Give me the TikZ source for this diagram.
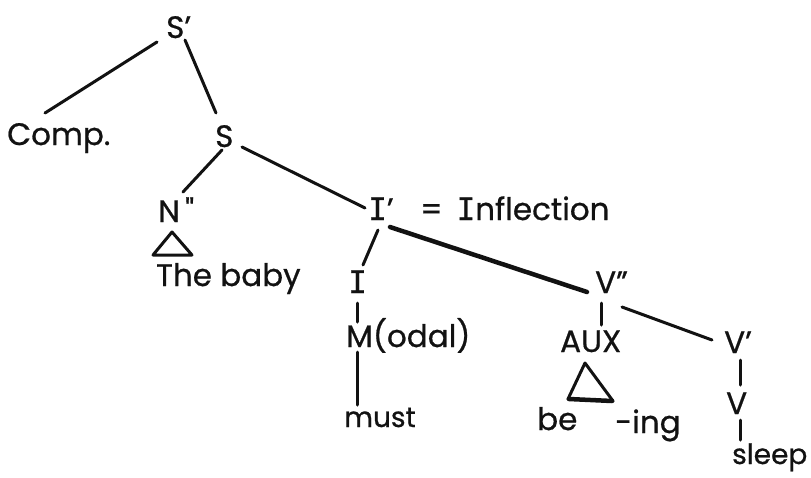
\documentclass[tikz,border=0pt]{standalone}
\usepackage{fontspec}
\setmainfont{Poppins}[FakeBold=0.7]
\newfontfamily\serifI{DejaVu Sans Mono}[FakeBold=0.7]
\usetikzlibrary{calc}
\definecolor{ink}{HTML}{121212}
\tikzset{
  lbl/.style={anchor=base west, inner sep=0pt, text=ink, font=\fontsize{31}{36}\selectfont},
  small/.style={font=\fontsize{28}{33}\selectfont},
  edge/.style={draw=ink, line width=3pt, line cap=round},
  thickedge/.style={draw=ink, line width=4.5pt, line cap=round},
  tri/.style={draw=ink, line width=3pt, line join=round}
}
\begin{document}
\begin{tikzpicture}[x=1pt,y=-1pt]
\useasboundingbox[fill=white] (0,0) rectangle (811,477);
% nodes
\node[lbl] (Sp) at (166,38) {S'};
\node[lbl] (Comp) at (7,145) {Comp.};
\node[lbl] (S) at (215,147) {S};
\node[lbl] (Npp) at (158,222) {N\,\textquotedbl};
\node[lbl] (Baby) at (156,286) {The baby};
\node[lbl] (Ip) at (368,220) {{\serifI I}'};
\node[lbl] (Infl) at (420,220) {=\hspace{0.45em}{\serifI I}nflection};
\node[lbl] (I) at (348,293) {{\serifI I}};
\node[lbl] (M) at (346,347) {M(odal)};
\node[lbl,small] (must) at (344,427) {must};
\node[lbl] (Vpp) at (595,293) {V''};
\node[lbl] (Aux) at (560,352) {AUX};
\node[lbl] (be) at (537,430) {be};
\node[lbl] (ing) at (615,433) {-ing};
\node[lbl] (Vp) at (724,353) {V'};
\node[lbl] (V) at (726,414) {V};
\node[lbl,small] (sleep) at (732,464) {sleep};
% connectors
\draw[edge] ($(Sp.base west)+(-9,4)$) -- ($(Comp.base west)+(38,-32)$);
\draw[edge] ($(Sp.base west)+(19,2)$) -- ($(S.base west)+(1,-34)$);
\draw[edge] ($(S.base west)+(7,3)$) -- ($(Npp.base west)+(25,-30)$);
\draw[edge] ($(S.base west)+(27,0)$) -- ($(Ip.base west)+(-3,-12)$);
\draw[edge] ($(Ip.base west)+(10,10)$) -- ($(I.base west)+(15,-28)$);
\draw[thickedge] ($(Ip.base west)+(22,7)$) -- ($(Vpp.base west)+(-8,-1)$);
\draw[edge] ($(I.base west)+(9,10)$) -- ($(M.base west)+(11,-25)$);
\draw[edge] ($(M.base west)+(11,5)$) -- ($(must.base west)+(13,-22)$);
\draw[edge] ($(Vpp.base west)+(6,10)$) -- ($(Aux.base west)+(41,-27)$);
\draw[edge] ($(Vpp.base west)+(27,14)$) -- ($(Vp.base west)+(-12,-13)$);
\draw[edge] ($(Vp.base west)+(16,7)$) -- ($(V.base west)+(14,-29)$);
\draw[edge] ($(V.base west)+(14,6)$) -- ($(sleep.base west)+(8,-24)$);
% triangles
\draw[tri] ($(Npp.base west)+(14,10)$) -- ($(Npp.base west)+(-5,33)$) -- ($(Npp.base west)+(34,33)$) -- cycle;
\draw[tri] ($(Aux.base west)+(25,11)$) -- ($(Aux.base west)+(8,47)$) -- ($(Aux.base west)+(53,49)$) -- cycle;
\draw[draw=ink, line width=4.5pt, line cap=round] ($(Aux.base west)+(9,47)$) -- ($(Aux.base west)+(52,49)$);
\end{tikzpicture}
\end{document}
